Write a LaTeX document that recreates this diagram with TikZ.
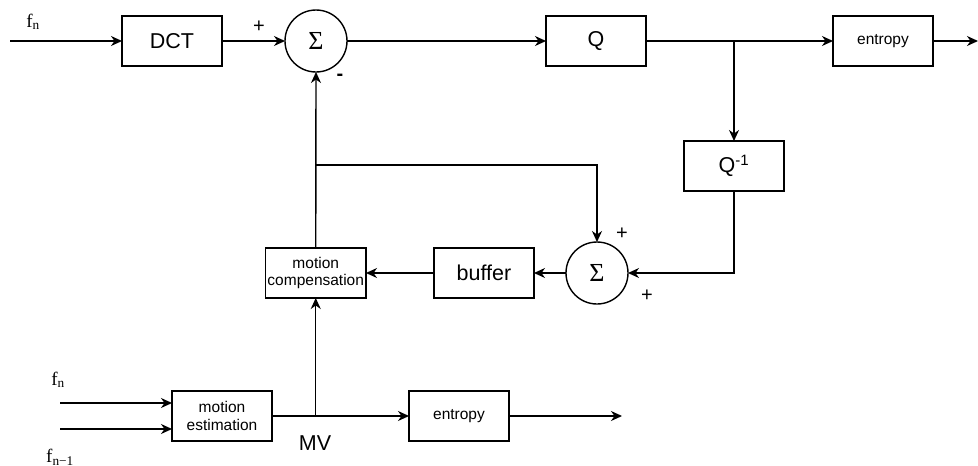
\documentclass[tikz,border=0pt]{standalone}
\usepackage{fontspec}
\setmainfont{Liberation Serif}
\setsansfont{Liberation Sans}
\usetikzlibrary{arrows.meta,positioning,calc}

\begin{document}
\begin{tikzpicture}[
  x=1pt, y=-1pt,
  >={Stealth[length=11pt,width=10pt,inset=3.5pt]},
  line width=1.4pt,
  every node/.style={outer sep=0pt, font=\sffamily\fontsize{21.5}{25}\selectfont},
  blk/.style={draw, minimum width=100pt, minimum height=50pt, inner sep=2pt, align=center},
  smallblk/.style={blk, font=\sffamily\fontsize{15.5}{17.5}\selectfont},
  adder/.style={draw, circle, minimum size=62pt, inner sep=0pt, font=\rmfamily\fontsize{26}{26}\selectfont},
  sgn/.style={inner sep=0pt, font=\sffamily\fontsize{20}{20}\selectfont},
  sig/.style={inner sep=0pt, font=\rmfamily\fontsize{19}{21}\selectfont}
]
\useasboundingbox (0,0) rectangle (978,466);

% forward path
\node[blk] (dct) at (172,41) {DCT};
\node[adder, right=63pt of dct] (sum1) {Σ};
\node[blk, right=199pt of sum1] (q) {Q};
\node[smallblk, right=187pt of q] (ent1) {entropy};
\coordinate (split) at (734,41);
\node[blk, below=100pt of split] (qinv) {Q\textsuperscript{-1}};

% reconstruction loop
\node[adder] (sum2) at (597,273) {Σ};
\node[blk, left=32pt of sum2] (buf) {buffer};
\node[smallblk, left=68pt of buf] (mc) {motion\\compensation};

% motion estimation
\node[smallblk] (me) at (222,416) {motion\\estimation};
\node[smallblk, right=137pt of me] (ent2) {entropy};

\coordinate (in1) at (10,41);
\coordinate (out1) at (978,41);
\coordinate (fb) at (mc.north |- 0,165);
\coordinate (mvsplit) at (mc.south |- me.east);
\coordinate (out2) at (622,416);
\coordinate (in2) at (60,403);
\coordinate (in3) at (60,429);

% labels
\node[sig] (fn) at (33,22) {f\textsubscript{n}};
\node[sig] (fnb) at (58,380) {f\textsubscript{n}};
\node[sig] (fnprev) at (60,457) {f\textsubscript{n−1}};
\node[sgn] (p1) at (259,27) {+};
\node[sgn] (m1) at (340,77) {\bfseries -};
\node[sgn] (p2) at (622,234) {+};
\node[sgn] (p3) at (647,296) {+};
\node (mv) at (315,443) {MV};

\draw[->] (in1) -- (dct);
\draw[->] (dct) -- (sum1);
\draw[->] (sum1) -- (q);
\draw[->] (q) -- (split) -- (ent1);
\draw[->] (ent1) -- (out1);
\draw[->] (split) -- (qinv);
\draw[->] (qinv.south) |- (sum2.east);
\draw[->] (sum2) -- (buf);
\draw[->] (buf) -- (mc);
\draw[->] (mc.north) -- (sum1.south);
\draw[->] (fb) -| (sum2.north);
\draw[->] (in2) -- (in2 -| me.west);
\draw[->] (in3) -- (in3 -| me.west);
\draw[->] (me.east) -- (mvsplit) -- (ent2);
\draw[->] (ent2) -- (out2);
\draw[->] (mvsplit) -- (mc.south);
\end{tikzpicture}
\end{document}
